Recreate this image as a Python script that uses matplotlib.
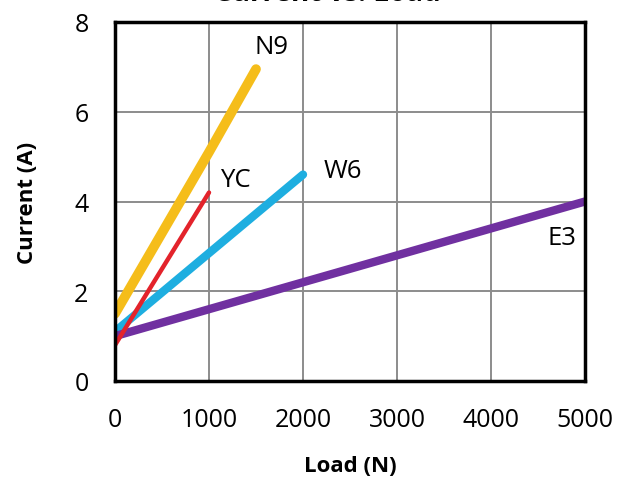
import matplotlib
matplotlib.use("Agg")
import matplotlib.pyplot as plt

series_names = ["N9", "YC", "W6", "E3"]
n9_x = [0, 500, 1000, 1500]
n9_y = [1.5, 3.3, 5.1, 6.95]
yc_x = [0, 1000]
yc_y = [0.8, 4.2]
w6_x = [0, 2000]
w6_y = [1.1, 4.6]
e3_x = [0, 5000]
e3_y = [1.0, 4.0]
x_ticks = [0, 1000, 2000, 3000, 4000, 5000]
y_ticks = [0, 2, 4, 6, 8]

plt.rcParams['font.family'] = ['Open Sans', 'DejaVu Sans']

fig = plt.figure(figsize=(6.26, 4.85), dpi=100)
ax = fig.add_axes([115/626, 1 - 382/485, 470/626, 359/485])

ax.plot(n9_x, n9_y, color="#F5BD1A", lw=7, solid_capstyle="round", zorder=3)
ax.plot(w6_x, w6_y, color="#1EAEE0", lw=6, solid_capstyle="round", zorder=3)
ax.plot(e3_x, e3_y, color="#7030A0", lw=6, solid_capstyle="round", zorder=3)
ax.plot(yc_x, yc_y, color="#E3232B", lw=3.2, solid_capstyle="round", zorder=4)

lbl_fs = 18.5
ax.text(1660, 7.46, "N9", fontsize=lbl_fs, ha="center", va="center")
ax.text(1282, 4.50, "YC", fontsize=lbl_fs, ha="center", va="center")
ax.text(2420, 4.68, "W6", fontsize=lbl_fs, ha="center", va="center")
ax.text(4755, 3.20, "E3", fontsize=lbl_fs, ha="center", va="center")

ax.set_xlim(0, 5000)
ax.set_ylim(0, 8)
ax.set_xticks(x_ticks)
ax.set_yticks(y_ticks)
ax.tick_params(axis="x", length=0, labelsize=18, pad=19)
ax.tick_params(axis="y", length=0, labelsize=18, pad=19)
ax.grid(True, color="#8C8C8C", lw=1.4, zorder=1)
for s in ax.spines.values():
    s.set_linewidth(2.5)
    s.set_color("black")
    s.set_zorder(5)

ax.set_xlabel("Load (N)", fontsize=16, fontweight="bold", labelpad=16)
ax.set_ylabel("Current (A)", fontsize=16, fontweight="bold", labelpad=26)

fig.text(0.523, 1 - 1/485, "Current vs. Load", fontsize=20, fontweight="bold",
         ha="center", va="baseline")

fig.savefig("out.png", dpi=100)
